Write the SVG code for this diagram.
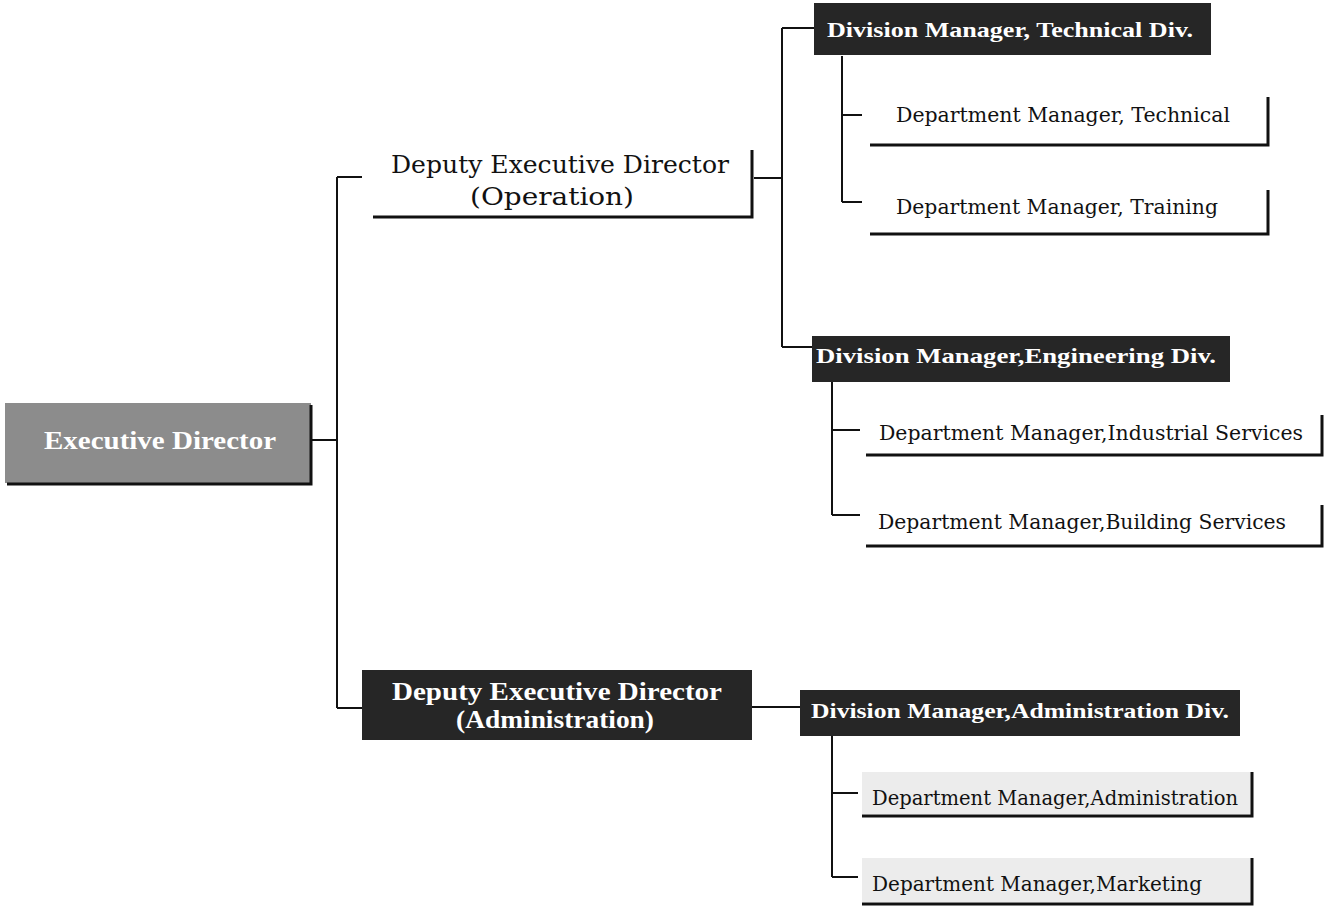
<svg xmlns="http://www.w3.org/2000/svg" width="1332" height="914" viewBox="0 0 1332 914">
<style>
.bg{fill:#ffffff}
.con{stroke:#111;stroke-width:2;fill:none}
.brk{stroke:#111;stroke-width:3;fill:none}
.dark{fill:#262626}
.grey{fill:#8c8c8c}
.light{fill:#ececec}
.shadow{stroke:#111;stroke-width:3;fill:none}
.t{font-family:"DejaVu Serif","Liberation Serif",serif;fill:#111}
.tw{font-family:"Liberation Serif","DejaVu Serif",serif;fill:#ffffff;font-weight:bold}
</style>
<rect class="bg" x="0" y="0" width="1332" height="914"/>
<g id="connectors">
<path class="con" d="M312 440 H337 M337 177 V708 M337 177 H362 M337 708 H362"/>
<path class="con" d="M754 178 H782 M782 28 V347 M782 28 H814 M782 347 H812"/>
<path class="con" d="M842 56 V202 M842 115 H862 M842 202 H862"/>
<path class="con" d="M832 382 V515 M832 430 H860 M832 515 H860"/>
<path class="con" d="M752 707 H800"/>
<path class="con" d="M832 735 V877 M832 793 H858 M832 877 H858"/>
</g>
<g id="executive-director">
<rect class="grey" x="5" y="403" width="306" height="80"/>
<path class="shadow" d="M311 405 V484 H7"/>
<text class="tw" x="160" y="449" font-size="26" text-anchor="middle" textLength="232" lengthAdjust="spacingAndGlyphs">Executive Director</text>
</g>
<g id="deputy-operation">
<path class="brk" d="M373 217 H752 V150"/>
<text class="t" x="560" y="173" font-size="24" text-anchor="middle" textLength="338" lengthAdjust="spacingAndGlyphs">Deputy Executive Director</text>
<text class="t" x="552" y="205" font-size="24" text-anchor="middle" textLength="164" lengthAdjust="spacingAndGlyphs">(Operation)</text>
</g>
<g id="division-technical">
<rect class="dark" x="814" y="3" width="397" height="52"/>
<text class="tw" x="1010" y="37" font-size="22" text-anchor="middle" textLength="366" lengthAdjust="spacingAndGlyphs">Division Manager, Technical Div.</text>
</g>
<g id="dept-technical">
<path class="brk" d="M870 145 H1268 V97"/>
<text class="t" x="896" y="122" font-size="20" textLength="334" lengthAdjust="spacingAndGlyphs">Department Manager, Technical</text>
</g>
<g id="dept-training">
<path class="brk" d="M870 234 H1268 V190"/>
<text class="t" x="896" y="214" font-size="20" textLength="322" lengthAdjust="spacingAndGlyphs">Department Manager, Training</text>
</g>
<g id="division-engineering">
<rect class="dark" x="812" y="336" width="418" height="46"/>
<text class="tw" x="1016" y="363" font-size="22" text-anchor="middle" textLength="400" lengthAdjust="spacingAndGlyphs">Division Manager,Engineering Div.</text>
</g>
<g id="dept-industrial">
<path class="brk" d="M866 455 H1322 V415"/>
<text class="t" x="879" y="440" font-size="20" textLength="424" lengthAdjust="spacingAndGlyphs">Department Manager,Industrial Services</text>
</g>
<g id="dept-building">
<path class="brk" d="M866 546 H1322 V505"/>
<text class="t" x="878" y="529" font-size="20" textLength="408" lengthAdjust="spacingAndGlyphs">Department Manager,Building Services</text>
</g>
<g id="deputy-administration">
<rect class="dark" x="362" y="670" width="390" height="70"/>
<text class="tw" x="557" y="700" font-size="26" text-anchor="middle" textLength="330" lengthAdjust="spacingAndGlyphs">Deputy Executive Director</text>
<text class="tw" x="555" y="728" font-size="26" text-anchor="middle" textLength="198" lengthAdjust="spacingAndGlyphs">(Administration)</text>
</g>
<g id="division-administration">
<rect class="dark" x="800" y="690" width="440" height="46"/>
<text class="tw" x="1020" y="718" font-size="22" text-anchor="middle" textLength="418" lengthAdjust="spacingAndGlyphs">Division Manager,Administration Div.</text>
</g>
<g id="dept-administration">
<rect class="light" x="862" y="772" width="389" height="42"/>
<path class="brk" d="M862 816 H1252 V772"/>
<text class="t" x="872" y="805" font-size="20" textLength="366" lengthAdjust="spacingAndGlyphs">Department Manager,Administration</text>
</g>
<g id="dept-marketing">
<rect class="light" x="862" y="858" width="389" height="44"/>
<path class="brk" d="M862 904 H1252 V858"/>
<text class="t" x="872" y="891" font-size="20" textLength="330" lengthAdjust="spacingAndGlyphs">Department Manager,Marketing</text>
</g>
</svg>
